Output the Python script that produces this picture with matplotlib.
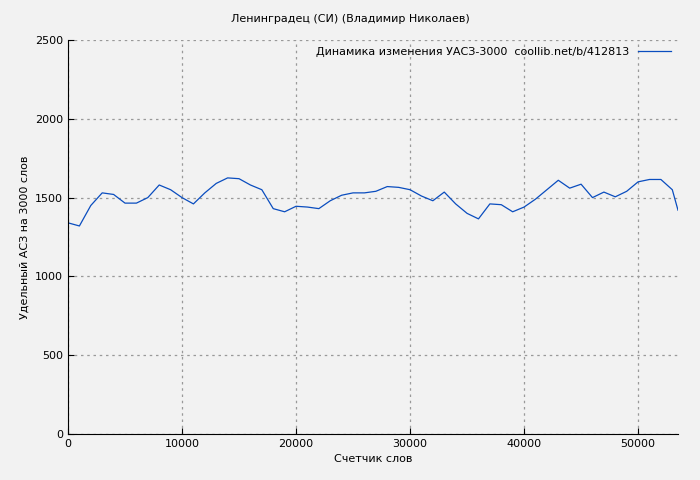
import matplotlib
matplotlib.use("Agg")
import matplotlib.pyplot as plt

x_words = list(range(0, 53001, 1000)) + [53500]
uasz = [1340, 1320, 1450, 1530, 1520, 1465, 1465, 1500, 1580, 1550,
        1500, 1460, 1530, 1590, 1625, 1620, 1580, 1550, 1430, 1410,
        1445, 1440, 1430, 1480, 1515, 1530, 1530, 1540, 1570, 1565,
        1550, 1510, 1480, 1535, 1460, 1400, 1365, 1460, 1455, 1410,
        1440, 1490, 1550, 1610, 1560, 1585, 1500, 1535, 1505, 1540,
        1600, 1615, 1615, 1550, 1420]
title = "Ленинградец (СИ) (Владимир Николаев)"
legend_label = "Динамика изменения УАСЗ-3000  coollib.net/b/412813"

fig = plt.figure(figsize=(7, 4.8), dpi=100, facecolor="#f2f2f2")
ax = fig.add_axes([68/700, 46/480, 610/700, 394/480])
ax.set_facecolor("#f2f2f2")
ax.plot(x_words, uasz, color="#0a4dbf", lw=0.9, label=legend_label)
ax.set_xlim(0, 53500)
ax.set_ylim(0, 2500)
ax.set_xticks([0, 10000, 20000, 30000, 40000, 50000])
ax.set_yticks([0, 500, 1000, 1500, 2000, 2500])
ax.grid(True, color="#999999", ls=(0, (2, 3)), lw=0.9)
for s in ["top", "right"]:
    ax.spines[s].set_visible(False)
ax.tick_params(labelsize=8, direction="in", length=4)
ax.set_xlabel("Счетчик слов", fontsize=8)
ax.set_ylabel("Удельный АСЗ на 3000 слов", fontsize=8)
fig.suptitle(title, fontsize=8, y=0.97)
ax.legend(loc="upper right", fontsize=8, frameon=False, handlelength=3,
          markerfirst=False, borderaxespad=0.2)
fig.savefig("out.png", dpi=100, facecolor=fig.get_facecolor())
